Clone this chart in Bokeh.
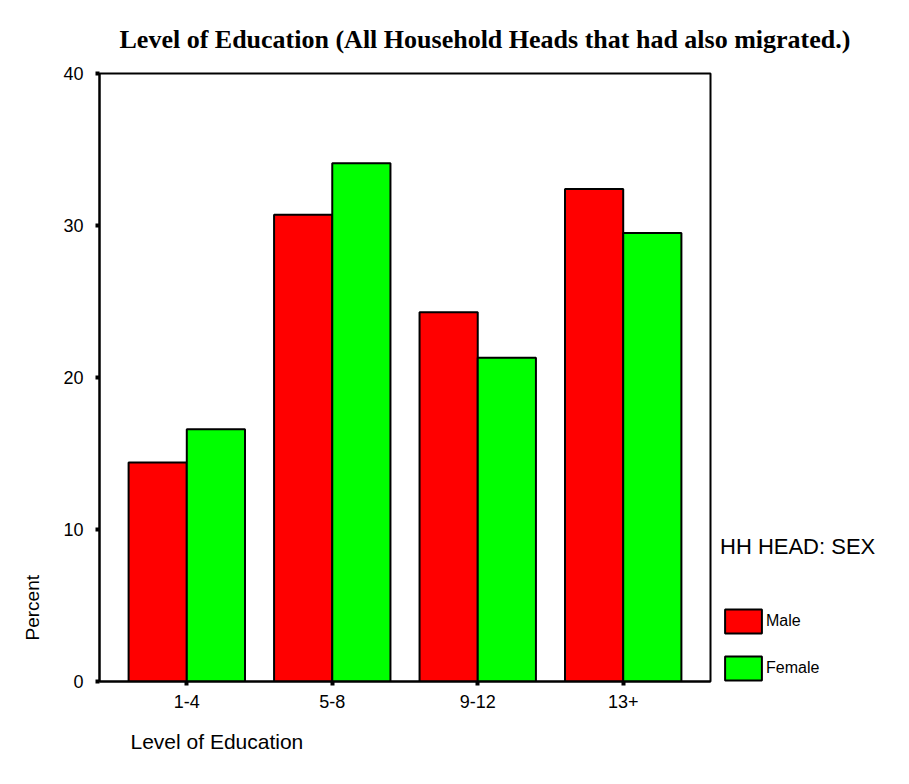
from bokeh.plotting import figure
from bokeh.models import (ColumnDataSource, FactorRange, Range1d, Legend, LegendItem,
                          Title, FixedTicker)
from bokeh.transform import dodge
from bokeh.embed import file_html
from bokeh.resources import INLINE

categories = ["1-4", "5-8", "9-12", "13+"]
male = [14.4, 30.7, 24.3, 32.4]
female = [16.6, 34.1, 21.3, 29.5]
y_ticks = [0, 10, 20, 30, 40]
series_names = ["Male", "Female"]
title_text = "Level of Education (All Household Heads that had also migrated.)"
legend_title = "HH HEAD: SEX"
x_label = "Level of Education"
y_label = "Percent"

source = ColumnDataSource(dict(cat=categories, male=male, female=female))

p = figure(x_range=FactorRange(factors=categories, range_padding=0.05),
           y_range=Range1d(0, 40),
           frame_width=611, frame_height=608,
           min_border_left=99, min_border_right=183,
           min_border_top=73, min_border_bottom=95,
           output_backend="svg", toolbar_location=None)

r_m = p.vbar(x=dodge("cat", -0.2, range=p.x_range), top="male", width=0.4,
             source=source, fill_color="#FF0000", line_color="black", line_width=2)
r_f = p.vbar(x=dodge("cat", 0.2, range=p.x_range), top="female", width=0.4,
             source=source, fill_color="#00FF00", line_color="black", line_width=2)

p.xgrid.visible = False
p.ygrid.visible = False
p.outline_line_color = "black"
p.outline_line_width = 2
p.outline_line_alpha = 1

p.yaxis.ticker = FixedTicker(ticks=y_ticks)
for ax in (p.xaxis[0], p.yaxis[0]):
    ax.axis_line_width = 2
    ax.axis_line_color = "black"
    ax.major_tick_in = 0
    ax.major_tick_out = 4
    ax.major_tick_line_width = 4
    ax.major_tick_line_color = "black"
    ax.minor_tick_line_color = None
    ax.major_label_text_font = "Liberation Sans"
    ax.major_label_text_font_size = "18px"
    ax.major_label_text_color = "black"
p.yaxis.major_label_standoff = 12
p.xaxis.major_label_standoff = 9

legend = Legend(items=[LegendItem(label=series_names[0], renderers=[r_m]),
                       LegendItem(label=series_names[1], renderers=[r_f])],
                title=legend_title, location=(10, -2),
                glyph_width=46, glyph_height=30, label_height=30,
                label_standoff=0, spacing=17, padding=0, margin=0,
                border_line_color=None, background_fill_alpha=0,
                title_text_font="Liberation Sans", title_text_font_size="22px",
                title_text_font_style="normal", title_text_color="black",
                title_standoff=46,
                label_text_font="Liberation Sans", label_text_font_size="16px",
                label_text_color="black")
p.add_layout(legend, "right")

# chart title and axis titles (standoff pushes them away from the frame)
p.add_layout(Title(text=title_text, align="left", offset=20,
                   text_font="Liberation Serif", text_font_size="26px",
                   text_font_style="bold", text_color="black", standoff=40), "above")
p.add_layout(Title(text=y_label, align="left", offset=41,
                   text_font="Liberation Sans", text_font_size="19px",
                   text_font_style="normal", text_color="black", standoff=36), "left")
p.add_layout(Title(text=x_label, align="left", offset=31,
                   text_font="Liberation Sans", text_font_size="21px",
                   text_font_style="normal", text_color="black", standoff=34), "below")

open("out.html", "w").write(file_html(p, INLINE))
